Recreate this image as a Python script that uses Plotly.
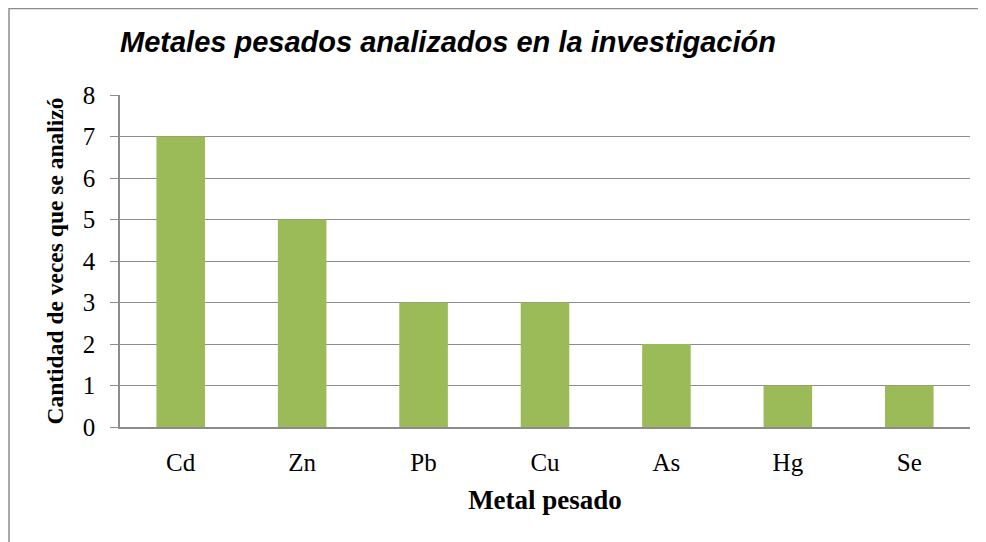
import plotly.graph_objects as go

metales = ["Cd", "Zn", "Pb", "Cu", "As", "Hg", "Se"]
cantidad = [7, 5, 3, 3, 2, 1, 1]
y_ticks = [0, 1, 2, 3, 4, 5, 6, 7, 8]

# page has an 8px body margin, so the figure is 8px smaller than the window
W, H = 978, 534
L, R, T, B = 112, 16, 87, 115

fig = go.Figure(go.Bar(x=metales, y=cantidad, marker=dict(color="#9BBB59", line=dict(width=0))))

serif = "Liberation Serif"
fig.update_layout(
    width=W, height=H,
    margin=dict(l=L, r=R, t=T, b=B),
    plot_bgcolor="white", paper_bgcolor="white",
    bargap=0.6,
    showlegend=False,
    title=dict(text="<b><i>Metales pesados analizados en la investigación</i></b>",
               font=dict(family="Liberation Sans", size=29, color="black"),
               x=(120 - 8) / W, xanchor="left", y=1 - (42 - 8) / H, yanchor="middle"),
    xaxis=dict(
        showgrid=False, showline=True, linecolor="#8c8c8c", linewidth=1.5,
        ticks="", tickfont=dict(family=serif, size=25, color="black"),
        ticklabelstandoff=12,
        title=dict(text="<b>Metal pesado</b>", font=dict(family=serif, size=27, color="black"), standoff=15),
    ),
    yaxis=dict(
        range=[0, 8], tickvals=y_ticks, showgrid=True, gridcolor="#8c8c8c", gridwidth=1,
        showline=True, linecolor="#8c8c8c", linewidth=1.5, zeroline=False,
        ticks="outside", ticklen=8, tickcolor="#8c8c8c",
        tickfont=dict(family=serif, size=25, color="black"), ticklabelstandoff=10,
        title=dict(text="<b>Cantidad de veces que se analizó</b>", font=dict(family=serif, size=23.5, color="black"), standoff=13),
    ),
)

pw = W - L - R
ph = H - T - B
fig.add_shape(type="rect", xref="paper", yref="paper",
              x0=(1 - L) / pw, x1=(975 - L) / pw,
              y0=-(B + 10) / ph, y1=1 + (T - 0.5) / ph,
              line=dict(color="#8c8c8c", width=1.5), fillcolor="rgba(0,0,0,0)", layer="below")

fig.write_html("out.html")
